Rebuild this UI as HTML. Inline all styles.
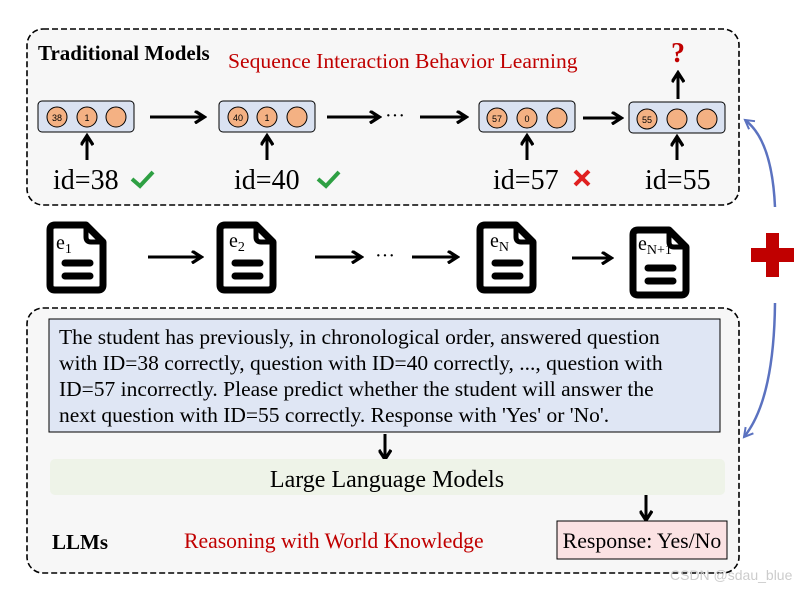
<!DOCTYPE html>
<html><head><meta charset="utf-8"><style>html,body{margin:0;padding:0;background:#fff}svg{display:block}</style></head><body>
<svg width="808" height="590" viewBox="0 0 808 590" xmlns="http://www.w3.org/2000/svg" font-family="Liberation Serif, serif">
<defs>
<marker id="ah" viewBox="0 0 10 10" refX="7" refY="5" markerWidth="4.5" markerHeight="4.5" orient="auto"><path d="M1,0.5 L8,5 L1,9.5" fill="none" stroke="#000" stroke-width="2.4"/></marker>
<marker id="bh" viewBox="0 0 10 10" refX="8" refY="5" markerWidth="5" markerHeight="5" orient="auto"><path d="M1,1 L8,5 L1,9" fill="none" stroke="#5b72c0" stroke-width="1.6"/></marker>
<g id="doc"><path d="M5,2 H36 L53,19 V62 Q53,67 48,67 H5 Q0,67 0,62 V7 Q0,2 5,2 Z" fill="#fff" stroke="#000" stroke-width="7" stroke-linejoin="round"/><path d="M36,2 V14 Q36,19 41,19 H53" fill="none" stroke="#000" stroke-width="5"/><line x1="15" y1="40" x2="40" y2="40" stroke="#000" stroke-width="7" stroke-linecap="round"/><line x1="15" y1="53" x2="40" y2="53" stroke="#000" stroke-width="7" stroke-linecap="round"/></g>
</defs>
<rect x="27" y="29" width="712" height="176" rx="16" fill="#f7f7f7" stroke="#000" stroke-width="1.6" stroke-dasharray="6,3"/>
<rect x="27" y="308" width="712" height="265" rx="16" fill="#f7f7f7" stroke="#000" stroke-width="1.6" stroke-dasharray="6,3"/>
<text x="38" y="60" font-size="21" font-weight="bold">Traditional Models</text>
<text x="228" y="68" font-size="21.6" fill="#c00000">Sequence Interaction Behavior Learning</text>
<g stroke="#000" stroke-width="1">
<rect x="38" y="101" width="96" height="31" rx="4" fill="#dae2f1"/>
<rect x="219" y="101" width="96" height="31" rx="4" fill="#dae2f1"/>
<rect x="479" y="101" width="96" height="31" rx="4" fill="#dae2f1"/>
<rect x="629" y="102" width="96" height="31" rx="4" fill="#dae2f1"/>
<g fill="#f4b183"><circle cx="57" cy="117" r="10"/><circle cx="87" cy="117" r="10"/><circle cx="116" cy="117" r="10"/>
<circle cx="238" cy="117" r="10"/><circle cx="267" cy="117" r="10"/><circle cx="297" cy="117" r="10"/>
<circle cx="497" cy="118" r="10"/><circle cx="527" cy="118" r="10"/><circle cx="557" cy="118" r="10"/>
<circle cx="647" cy="119" r="10"/><circle cx="677" cy="119" r="10"/><circle cx="707" cy="119" r="10"/></g></g>
<g font-family="Liberation Sans, sans-serif" font-size="9" text-anchor="middle"><text x="57" y="121">38</text><text x="87" y="121">1</text><text x="238" y="121">40</text><text x="267" y="121">1</text><text x="497" y="122">57</text><text x="527" y="122">0</text><text x="647" y="123">55</text></g>
<g stroke="#000" stroke-width="3" marker-end="url(#ah)">
<line x1="150" y1="117" x2="203" y2="117"/><line x1="327" y1="117" x2="378" y2="117"/><line x1="420" y1="117" x2="465" y2="117"/><line x1="583" y1="118" x2="620" y2="118"/>
<line x1="87" y1="160" x2="87" y2="137"/><line x1="267" y1="160" x2="267" y2="137"/><line x1="527" y1="160" x2="527" y2="137"/><line x1="677" y1="160" x2="677" y2="138"/><line x1="678" y1="99" x2="678" y2="74"/>
<line x1="148" y1="257" x2="200" y2="257"/><line x1="315" y1="257" x2="360" y2="257"/><line x1="412" y1="257" x2="456" y2="257"/><line x1="572" y1="258" x2="610" y2="258"/>
<line x1="385" y1="434" x2="385" y2="458"/><line x1="646" y1="495" x2="646" y2="519"/></g>
<text x="385" y="122" font-size="20">···</text><text x="375" y="262" font-size="20">···</text>
<text x="678" y="62" font-size="28" font-weight="bold" fill="#c00000" text-anchor="middle">?</text>
<g font-size="28"><text x="53" y="189">id=38</text><text x="234" y="189">id=40</text><text x="493" y="189">id=57</text><text x="645" y="189">id=55</text></g>
<g fill="none" stroke="#2ea043" stroke-width="4"><path d="M132,179 L140,186 L153,172"/><path d="M318,179 L326,186 L339,172"/></g>
<g stroke="#e02020" stroke-width="4"><line x1="575" y1="171" x2="589" y2="185"/><line x1="589" y1="171" x2="575" y2="185"/></g>
<use href="#doc" x="50" y="223"/><use href="#doc" x="220" y="223"/><use href="#doc" x="480" y="223"/><use href="#doc" x="633" y="228"/>
<g font-size="20"><text x="56" y="249">e<tspan font-size="14" dy="4">1</tspan></text><text x="229" y="247">e<tspan font-size="14" dy="4">2</tspan></text><text x="490" y="247">e<tspan font-size="14" dy="4">N</tspan></text><text x="638" y="250">e<tspan font-size="14" dy="4">N+1</tspan></text></g>
<path d="M775,207 Q772,140 745,120" fill="none" stroke="#5b72c0" stroke-width="2.5" marker-end="url(#bh)"/>
<path d="M775,303 Q774,400 744,437" fill="none" stroke="#5b72c0" stroke-width="2.5" marker-end="url(#bh)"/>
<path d="M766,233 H779 V248 H794 V262 H779 V277 H766 V262 H751 V248 H766 Z" fill="#c00000"/>
<rect x="49" y="319" width="671" height="113" fill="#dfe6f4" stroke="#000" stroke-width="1"/>
<g font-size="21.5"><text x="59" y="344">The student has previously, in chronological order, answered question</text><text x="59" y="370">with ID=38 correctly, question with ID=40 correctly, ..., question with</text><text x="59" y="396">ID=57 incorrectly. Please predict whether the student will answer the</text><text x="59" y="422">next question with ID=55 correctly. Response with 'Yes' or 'No'.</text></g>
<rect x="50" y="459" width="675" height="36" rx="5" fill="#eef3e8"/>
<text x="387" y="487" font-size="24" text-anchor="middle">Large Language Models</text>
<rect x="557" y="521" width="170" height="38" fill="#fbe2e3" stroke="#000" stroke-width="1"/>
<text x="642" y="548" font-size="21.8" text-anchor="middle">Response: Yes/No</text>
<text x="52" y="549" font-size="21" font-weight="bold">LLMs</text>
<text x="184" y="548" font-size="21.7" fill="#c00000">Reasoning with World Knowledge</text>
<text x="670" y="580" font-size="14" fill="#ccc" font-family="Liberation Sans, sans-serif">CSDN @sdau_blue</text>
</svg>
</body></html>
